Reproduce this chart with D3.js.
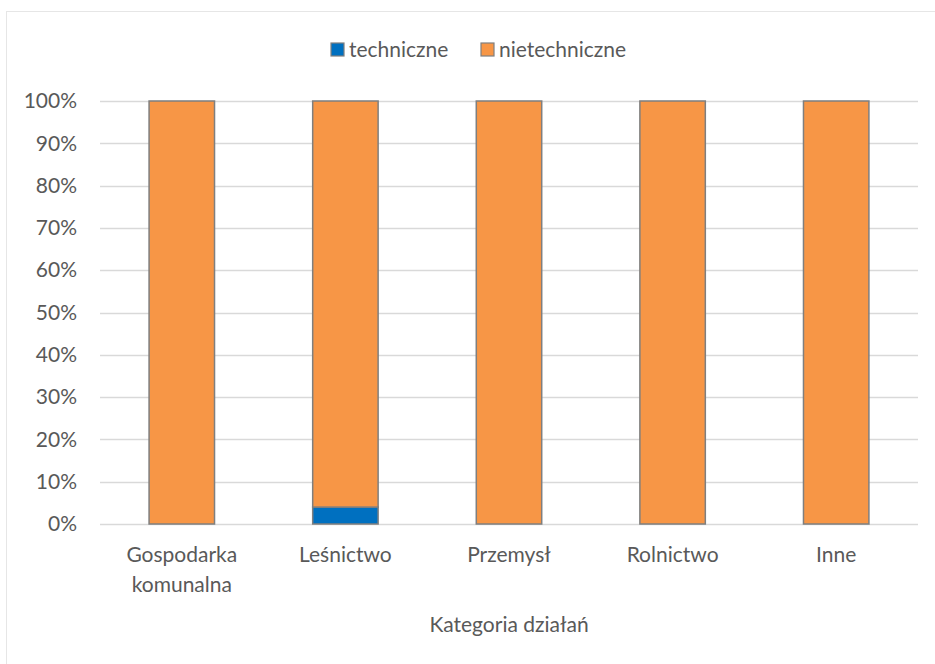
<!DOCTYPE html>
<html>
<head>
<meta charset="utf-8">
<script src="https://cdn.jsdelivr.net/npm/d3@7"></script>
<style>
  html, body { margin: 0; padding: 0; background: #fff; }
  svg { display: block; }
  text { font-family: Lato, "Open Sans", sans-serif; fill: #595959; }
</style>
</head>
<body>
<svg id="chart" width="935" height="664"></svg>
<script>
// Udział działań technicznych i nietechnicznych w poszczególnych kategoriach
const categories = [["Gospodarka", "komunalna"], ["Leśnictwo"], ["Przemysł"], ["Rolnictwo"], ["Inne"]];
const techniczne = [0, 4, 0, 0, 0];
const nietechniczne = [100, 96, 100, 100, 100];
const seriesNames = ["techniczne", "nietechniczne"];
const seriesColors = ["#0070c0", "#f79646"];
const yTicks = [0, 10, 20, 30, 40, 50, 60, 70, 80, 90, 100];

const svg = d3.select("#chart");
const W = 935, H = 664;
const margin = { left: 100, right: 17, top: 101, bottom: 140 };
const FS = 21;

// chart frame
svg.append("rect")
  .attr("x", 6.5).attr("y", 11.5)
  .attr("width", W).attr("height", H)
  .attr("fill", "#fff").attr("stroke", "#e6e6e6").attr("stroke-width", 1);

const x = d3.scaleBand()
  .domain(categories.map((d, i) => i))
  .range([margin.left, W - margin.right])
  .paddingInner(0.6).paddingOuter(0.3);

const y = d3.scaleLinear().domain([0, 100]).range([H - margin.bottom, margin.top]);

// gridlines
svg.append("g")
  .selectAll("line").data(yTicks).join("line")
  .attr("x1", margin.left).attr("x2", W - margin.right)
  .attr("y1", d => Math.round(y(d)) + 0.5).attr("y2", d => Math.round(y(d)) + 0.5)
  .attr("stroke", "#d9d9d9").attr("stroke-width", 1.3);

// y axis labels
const yAxis = d3.axisLeft(y).tickValues(yTicks).tickFormat(d => d + "%").tickSize(0).tickPadding(0);
const gy = svg.append("g").attr("transform", `translate(${margin.left - 23},0)`).call(yAxis);
gy.select(".domain").remove();
gy.selectAll("text").attr("font-size", FS).attr("fill", "#595959")
  .style("font-family", "Lato, 'Open Sans', sans-serif");

// stacked bars
const rows = categories.map((c, i) => ({ i, techniczne: techniczne[i], nietechniczne: nietechniczne[i] }));
const stack = d3.stack().keys(seriesNames)(rows);

svg.append("g").selectAll("g").data(stack).join("g")
  .attr("fill", (d, k) => seriesColors[k])
  .selectAll("rect").data(d => d.filter(p => p[1] - p[0] > 0)).join("rect")
  .attr("x", p => x(p.data.i))
  .attr("width", x.bandwidth())
  .attr("y", p => y(p[1]))
  .attr("height", p => y(p[0]) - y(p[1]))
  .attr("stroke", "#7f7f7f").attr("stroke-width", 1.5);

// category labels
const gx = svg.append("g");
categories.forEach((lines, i) => {
  const cx = x(i) + x.bandwidth() / 2;
  const t = gx.append("text")
    .attr("x", cx)
    .attr("y", 562)
    .attr("text-anchor", "middle")
    .attr("font-size", FS);
  lines.forEach((ln, j) => {
    t.append("tspan").attr("x", cx).attr("dy", j === 0 ? 0 : 30).text(ln);
  });
});

// axis title
svg.append("text")
  .attr("x", (margin.left + W - margin.right) / 2)
  .attr("y", 632)
  .attr("text-anchor", "middle")
  .attr("font-size", FS)
  .text("Kategoria działań");

// legend
const legendItems = [
  { name: seriesNames[0], color: seriesColors[0], x: 331 },
  { name: seriesNames[1], color: seriesColors[1], x: 481 }
];
const lg = svg.append("g");
legendItems.forEach(it => {
  lg.append("rect")
    .attr("x", it.x).attr("y", 43)
    .attr("width", 13).attr("height", 13)
    .attr("fill", it.color).attr("stroke", "#7f7f7f").attr("stroke-width", 1.2);
  lg.append("text")
    .attr("x", it.x + 18).attr("y", 57)
    .attr("font-size", FS)
    .text(it.name);
});
</script>
</body>
</html>
